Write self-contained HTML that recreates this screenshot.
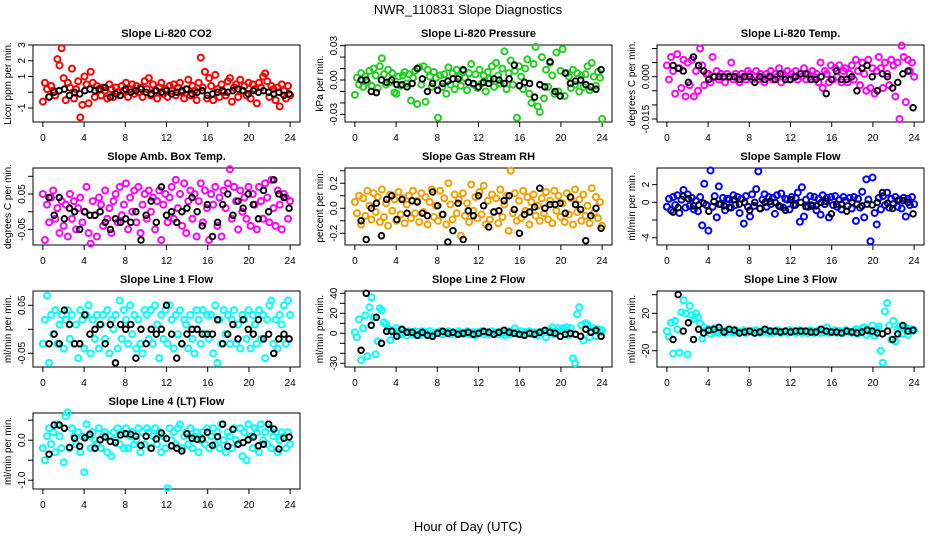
<!DOCTYPE html>
<html><head><meta charset="utf-8"><style>
html,body{margin:0;padding:0;background:#fff}
svg{display:block;font-family:"Liberation Sans",sans-serif}
</style></head><body>
<svg id="chart" width="936" height="540" viewBox="0 0 936 540">
<text x="468" y="14" font-size="13" text-anchor="middle">NWR_110831  Slope Diagnostics</text>
<text x="468" y="531" font-size="13" text-anchor="middle">Hour of Day (UTC)</text>
</svg>
<script>
const xTicks = [0,4,8,12,16,20,24];
const titles = ["Slope Li-820 CO2","Slope Li-820 Pressure","Slope Li-820 Temp.","Slope Amb. Box Temp.","Slope Gas Stream RH","Slope Sample Flow","Slope Line 1 Flow","Slope Line 2 Flow","Slope Line 3 Flow","Slope Line 4 (LT) Flow"];
const yLabels = ["Licor ppm per min.","kPa per min.","degrees C per min.","degrees C per min.","percent per min.","ml/min per min.","ml/min per min.","ml/min per min.","ml/min per min.","ml/min per min."];
const yRanges = [[-1.89,3.0],[-0.0367,0.0306],[-0.01606,0.01124],[-0.094,0.1234],[-0.294,0.322],[-4.82,3.88],[-0.0785,0.0798],[-33.7,42.3],[-37.4,43.9],[-1.22,0.68]];
const yTicks = [[-1,0,1,2,3],[-0.03,-0.02,-0.01,0,0.01,0.02,0.03],[-0.015,-0.01,-0.005,0,0.005,0.01],[-0.05,0,0.05,0.1],[-0.2,-0.1,0,0.1,0.2,0.3],[-4,-2,0,2],[-0.05,0,0.05],[-30,-20,-10,0,10,20,30,40],[-20,0,20,40],[-1,-0.5,0,0.5]];
const yTickLabels = [["-1","","1","2","3"],["-0.03","","","0.00","","","0.03"],["-0.015","","","0.000","",""],["-0.05","","0.05",""],["-0.2","","0.0","","0.2",""],["-4","","0","2"],["-0.05","","0.05"],["-30","","","0","","20","","40"],["-20","","20",""],["-1.0","","0.0",""]];
const colors = ["#ff0000","#22d022","#ff00ff","#ff00ff","#f5a000","#0000ff","#00ffff","#00ffff","#00ffff","#00ffff"];

const co2 = [-0.6,0.6,0.2,-0.3,0.4,0.1,-0.2,2.1,1.7,2.8, 0.9,-0.5,0.6,0.3,1.5,-0.4,0.2,0.7,-1.6,-0.8, 1.0,0.5,-0.7,1.3,0.6,-0.3,0.4,0.2,-0.2,0.3, 0.1,-0.4,0.5,0.2,-0.3,0.3,0.0,-0.2,0.4,0.1, 0.6,-0.3,0.2,0.5,-0.1,0.4,0.0,0.3,-0.3,0.7, 0.2,0.9,-0.2,0.5,0.1,-0.4,0.3,0.6,-0.1,0.2, -0.3,0.4,0.1,0.5,-0.2,0.3,0.6,0.0,-0.4,0.2, 0.8,-0.2,0.4,0.1,-0.5,0.6,2.2,0.3,1.3,-0.4, 0.9,0.4,-0.5,1.1,0.2,-0.3,0.5,0.0,-0.2,0.7, 0.9,-0.6,0.3,0.5,-0.3,0.8,0.1,0.4,-0.2,0.6, -0.4,0.5,0.2,-0.7,0.6,0.3,1.0,1.2,0.7,-0.3, 0.4,0.2,-0.5,0.3,-0.9,0.5,0.1,-0.4,0.4,-0.2];
const co2Hourly = [-0.3,0.0,0.1,0.2,-0.2,0.0,-0.1,0.1,0.2,0.1,0.2,0.3,-0.3,-0.1,-0.2,0.2,0.0,0.1,0.2,0.0,-0.1,0.1,0.0,0.1,-0.1,0.0,0.1,0.2,-0.1,0.0,0.1,-0.2,-0.1,0.0,0.1,0.0,0.1,0.2,0.1,-0.1,0.1,0.0,0.1,0.0,-0.1,0.0,-0.2,-0.1];
const pressure = [-0.013,0.002,-0.004,0.006,-0.006,0.003,-0.002,0.008,-0.005,0.010, 0.004,-0.007,0.012,0.019,0.005,-0.004,0.009,-0.002,0.006,-0.011, -0.012,0.003,-0.005,0.004,0.007,-0.003,0.005,-0.018,0.002,0.008, -0.021,0.011,-0.004,0.012,-0.019,0.009,0.003,-0.006,0.007,0.002, -0.033,0.004,-0.006,0.005,-0.012,0.011,-0.004,0.006,-0.008,0.009, 0.003,-0.005,0.008,0.002,-0.009,0.006,0.014,-0.004,0.005,-0.007, 0.009,-0.003,0.004,-0.010,0.007,0.001,0.012,-0.006,0.015,0.004, -0.003,0.010,0.025,-0.008,0.006,0.017,-0.004,0.008,-0.033,0.012, 0.003,-0.008,0.010,0.018,-0.012,-0.020,0.014,0.029,-0.023,-0.028, 0.020,-0.016,0.009,-0.006,0.015,0.004,-0.012,0.024,-0.010,0.008, 0.027,-0.014,0.006,0.003,-0.007,0.009,-0.004,0.006,-0.010,0.004, -0.006,0.005,0.012,-0.009,0.015,0.003,-0.005,0.007,0.002,-0.034];
const pressureHourly = [0.000,0.000,-0.010,-0.011,0.000,-0.002,0.000,-0.004,-0.004,-0.006,-0.003,0.010,0.001,-0.010,-0.003,-0.009,-0.003,-0.001,0.001,0.001,0.009,-0.002,-0.003,-0.006,-0.002,-0.003,0.001,0.000,-0.003,0.001,0.013,-0.005,-0.002,-0.003,-0.015,-0.004,-0.006,0.016,-0.010,-0.014,0.006,-0.003,-0.001,0.000,-0.004,-0.006,-0.008,0.009];
const licorTemp = [0.004,-0.001,0.007,0.002,-0.006,0.008,0.003,-0.004,0.006,-0.007, 0.005,-0.003,0.006,-0.007,0.002,-0.005,0.010,0.004,-0.003,0.001, 0.001,-0.002,0.007,0.000,0.002,-0.001,0.001,0.000,-0.002,0.001, 0.000,0.005,-0.001,0.001,0.000,-0.002,0.001,0.000,-0.001,0.002, 0.001,-0.001,0.000,0.002,-0.001,0.001,0.000,-0.002,0.001,0.000, 0.002,-0.001,0.001,0.000,0.003,-0.002,0.001,0.000,0.002,-0.001, 0.001,0.000,0.002,-0.001,0.001,0.000,0.003,-0.001,0.001,0.000, 0.002,0.000,0.001,-0.002,0.005,-0.004,0.002,0.001,-0.002,0.004, -0.001,0.003,0.000,0.004,-0.002,0.002,0.003,-0.002,0.001,0.004, -0.001,0.006,0.002,-0.003,0.005,0.001,-0.005,0.006,-0.004,0.003, -0.006,0.002,0.007,0.003,-0.004,0.005,0.001,-0.003,0.006,0.004, -0.007,0.005,-0.015,0.011,0.007,-0.009,0.006,0.002,0.005,0.000];
const licorTempHourly = [0.004,0.003,0.002,-0.002,0.007,0.004,0.002,-0.001,0.000,0.000,0.000,0.000,0.000,-0.001,0.000,0.000,-0.002,0.000,-0.001,0.000,-0.001,0.001,-0.001,-0.001,0.000,0.001,0.001,-0.001,-0.001,0.000,-0.006,-0.001,0.002,-0.001,-0.001,0.000,-0.005,0.003,0.004,0.000,-0.005,0.001,0.000,-0.004,-0.002,0.001,0.002,-0.011];
const boxTemp = [0.05,-0.08,0.02,-0.03,0.04,0.06,-0.02,0.01,-0.06,0.03, -0.04,0.02,-0.07,0.05,-0.02,0.03,-0.05,0.01,0.04,-0.03, 0.00,0.07,-0.06,-0.09,0.03,-0.01,-0.07,0.04,0.02,-0.04, 0.06,-0.02,0.01,-0.06,0.03,0.05,-0.03,0.07,-0.01,0.02, 0.08,-0.05,0.04,0.00,0.06,-0.03,0.07,-0.06,0.02,0.05, -0.02,0.06,0.00,0.04,-0.05,0.03,0.06,-0.08,0.02,0.05, -0.03,0.04,0.07,-0.02,0.09,0.01,0.05,-0.04,0.08,-0.06, 0.03,0.06,-0.02,0.05,-0.07,0.03,0.08,-0.03,0.06,0.01, -0.08,0.05,0.02,0.07,-0.04,0.04,-0.07,0.06,0.01,0.08, 0.12,-0.02,0.07,0.03,-0.05,0.06,0.00,0.04,-0.02,0.07, -0.04,0.05,0.02,-0.05,0.07,0.03,-0.02,0.08,0.04,-0.03, 0.09,0.01,-0.04,0.06,0.02,-0.05,0.05,0.04,-0.02,0.03];
const boxTempHourly = [0.04,-0.01,0.04,-0.02,0.01,0.0,-0.05,0.0,-0.01,-0.01,0.0,-0.03,-0.05,-0.02,-0.03,-0.02,-0.03,0.0,-0.08,-0.01,0.03,-0.03,0.07,-0.01,0.0,-0.03,0.0,0.01,0.04,0.0,-0.04,0.02,-0.07,-0.03,0.02,0.05,-0.01,0.03,0.01,0.05,0.02,-0.02,0.06,0.0,0.09,0.05,0.04,0.01];
const rh = [0.05,-0.04,0.10,-0.13,0.08,-0.06,0.14,0.02,-0.09,0.12, -0.03,0.09,-0.11,0.15,-0.07,0.04,-0.14,0.11,-0.02,0.07, -0.10,0.13,-0.05,0.08,-0.12,0.03,0.10,-0.08,0.14,-0.04, 0.06,-0.11,0.12,-0.03,0.09,-0.13,0.05,0.15,-0.07,0.02, -0.10,0.14,-0.05,0.08,-0.13,0.20,0.03,-0.09,0.11,-0.04, 0.07,-0.22,0.12,-0.06,0.04,-0.11,0.19,-0.02,0.09,-0.08, 0.13,-0.05,0.18,-0.13,0.06,-0.09,0.11,-0.03,0.08,-0.12, 0.15,-0.07,0.03,0.10,-0.18,0.30,-0.04,0.12,-0.10,0.06, -0.08,0.14,-0.02,0.09,-0.13,0.05,0.11,-0.06,0.02,-0.10, 0.08,-0.04,0.13,-0.09,0.06,-0.12,0.14,-0.02,0.10,-0.07, 0.04,-0.11,0.12,-0.05,0.08,-0.13,0.15,-0.03,0.07,-0.10, 0.11,-0.06,0.02,-0.12,0.16,-0.04,0.09,-0.08,0.05,-0.14];
const rhHourly = [-0.10,-0.25,0.0,0.04,-0.22,0.07,0.1,-0.09,0.07,-0.04,0.06,0.05,-0.04,-0.06,0.13,0.02,-0.05,-0.27,-0.18,0.04,-0.25,-0.02,-0.06,0.10,0.02,-0.15,-0.03,-0.02,0.06,0.10,-0.01,-0.20,-0.05,-0.03,0.01,0.16,0.0,0.03,0.03,0.04,-0.04,0.09,0.03,-0.01,-0.26,-0.06,0.0,-0.16];
const sampleFlow = [-0.5,0.4,-0.9,0.6,-0.3,0.8,-1.2,0.3,1.4,-0.6, 0.9,-0.4,0.5,-0.8,0.2,-1.0,0.6,-2.6,2.1,-0.3, -3.2,3.6,-0.5,0.7,-1.7,1.8,-0.2,0.5,-0.9,0.4, 0.3,-0.6,0.8,-0.3,0.6,-1.2,0.4,-2.4,0.7,-0.5, -1.6,0.9,-0.4,1.5,3.5,-0.7,0.3,0.9,-0.5,0.6, -0.2,0.5,-1.3,0.8,-0.4,1.0,-0.6,0.4,0.3,-0.8, 0.6,-0.3,0.5,1.1,-2.2,1.7,-1.6,0.3,-0.5,0.7, -0.4,0.6,-0.9,0.4,-1.4,0.8,-0.2,0.5,-1.7,0.6, -0.3,0.7,-0.5,0.3,-0.8,0.6,0.2,-0.4,0.5,-0.7, 0.6,-2.1,0.4,-0.6,1.2,-1.7,2.6,0.3,-4.4,2.8, -1.2,-2.5,0.5,-0.8,0.7,-0.3,1.1,-0.6,0.4,-0.2, 0.6,-0.5,0.3,-0.7,0.5,-1.6,0.4,-0.3,0.6,-0.2];
const sampleFlowHourly = [-1.1,-0.6,0.7,0.4,-0.4,-0.3,-0.1,-1.0,0.1,-0.2,-0.4,-0.6,0.3,-0.2,0.0,-0.9,0.0,-0.7,0.0,0.1,0.0,-0.5,-0.9,0.3,-0.3,0.0,-0.5,-0.3,-0.4,0.0,0.1,-1.3,-0.2,-0.2,-1.0,0.0,-0.2,-0.4,-0.2,-0.3,0.0,1.1,-0.1,-0.7,0.2,0.2,0.0,-1.3];
const line1 = [-0.03,0.02,0.07,-0.07,0.03,-0.01,0.04,-0.03,0.01,0.03, -0.04,0.02,0.04,-0.02,0.03,-0.03,0.01,-0.06,0.04,0.02, -0.04,0.03,0.05,-0.05,0.02,-0.02,0.03,-0.04,0.01,0.03, -0.02,0.04,-0.05,0.02,0.00,0.03,-0.04,0.06,-0.02,0.04, 0.02,-0.03,0.05,-0.01,0.03,-0.04,0.02,-0.03,-0.05,0.04, 0.03,-0.02,0.04,-0.03,0.05,0.01,-0.06,0.03,-0.02,0.04, -0.03,0.05,0.02,-0.04,0.03,-0.01,0.04,-0.03,0.02,0.01, -0.04,0.03,-0.02,-0.05,0.04,0.02,-0.03,0.04,-0.01,0.03, -0.02,0.03,-0.05,0.05,-0.07,0.02,-0.03,0.04,-0.01,0.03, -0.03,0.02,0.04,-0.03,0.01,-0.04,0.03,0.02,-0.02,0.04, -0.04,0.03,0.01,-0.03,0.04,-0.02,0.03,-0.06,0.02,0.05, 0.06,-0.03,0.02,-0.04,0.03,0.01,0.05,-0.03,0.06,0.03];
const line1Hourly = [-0.03,-0.01,-0.03,0.04,0.01,-0.03,-0.03,0.03,-0.01,0.00,0.01,-0.03,0.01,-0.07,0.01,0.00,0.01,-0.06,0.00,-0.03,0.00,-0.01,0.00,0.05,-0.01,-0.06,-0.03,-0.01,0.00,0.00,-0.01,-0.01,-0.01,0.02,-0.03,-0.01,0.01,-0.02,0.02,0.00,-0.01,0.02,-0.02,-0.01,-0.05,-0.02,-0.01,-0.02];
const line2 = [1,-4,14,-27,5,18,-23,26,36,16, -21,-8,25,23,11,9,5,-7,3,-2, 5,2,-1,3,1,-2,2,0,-1,2, 1,-2,2,0,1,-1,2,-1,0,1, 0,2,-1,1,0,2,-1,1,0,-1, 2,0,-1,1,2,-1,0,1,-2,1, 0,2,-1,1,0,-1,2,0,1,-1, 1,0,-2,1,2,-1,1,5,0,-1, 2,-1,1,0,2,-1,0,1,-2,1, 0,2,-4,1,3,6,-1,2,5,-3, 5,4,6,-2,5,-25,-30,19,26,8, -7,10,9,-4,2,5,-3,4,1,3];
const line2Hourly = [-17,40,8,16,-10,2,2,-3,4,1,1,-2,1,-2,-3,0,2,0,1,-1,0,1,-1,0,2,1,-1,1,3,1,0,-1,-2,0,-1,1,3,1,0,-3,-1,0,-1,-3,4,1,3,-3];
const line3 = [1,-5,10,-23,12,3,-22,21,34,20, -24,28,18,14,20,16,9,-7,5,2, 3,-2,1,4,0,-1,2,1,-1,2, 1,0,-1,2,1,-1,0,2,-1,1, 0,1,-1,2,0,-1,1,0,2,-1, 1,-1,0,2,1,-1,0,1,-1,2, 0,1,-1,0,2,-1,1,0,-1,2, 1,-1,0,2,-1,1,0,5,-1,1, 0,2,-1,1,0,-1,2,1,0,-1, 1,3,-2,1,4,5,-3,2,-1,7, -4,3,6,-20,-33,22,31,7,-8,12, -10,3,6,-2,4,5,-3,3,1,2];
const line3Hourly = [-8,40,1,10,-8,3,-1,2,3,5,0,3,2,-1,0,1,-1,0,3,1,1,0,1,0,1,1,1,0,0,3,1,0,0,-1,1,0,-1,0,2,1,-1,-2,1,-8,-2,7,1,2];
const line4 = [-0.2,-0.5,0.1,0.3,-0.1,0.2,-0.3,0.4,0.1,-0.2, -0.55,0.6,0.7,-0.2,0.3,0.1,-0.1,0.2,-0.3,0.1, -0.8,0.4,0.1,-0.2,0.2,0.0,-0.1,0.3,-0.2,0.1, 0.2,-0.3,0.1,-0.4,0.2,0.0,0.3,-0.1,0.2,-0.2, 0.3,-0.2,0.1,0.2,-0.1,0.0,0.3,-0.3,0.2,-0.1, 0.3,0.2,-0.2,0.1,0.3,-0.1,0.2,-0.3,0.1,-0.2, -1.2,0.3,0.0,0.2,-0.1,0.3,0.4,-0.2,0.1,0.2, -0.1,0.3,-0.2,0.1,0.2,-0.3,0.0,0.2,-0.1,0.3, -0.2,0.1,0.3,-0.1,0.2,-0.2,0.4,0.0,-0.3,0.2, 0.1,-0.2,0.3,0.0,-0.1,0.3,-0.4,0.2,-0.5,0.4, 0.1,-0.2,0.3,0.2,-0.3,0.4,0.0,0.2,-0.1,0.3, -0.2,0.1,0.2,-0.3,0.0,0.2,0.1,-0.2,0.2,-0.1];
const line4Hourly = [-0.35,0.38,0.38,0.30,-0.18,0.05,-0.15,0.06,0.15,-0.20,0.01,0.08,-0.03,-0.06,0.13,0.16,0.15,0.10,-0.13,0.10,-0.20,0.03,0.18,0.04,-0.14,-0.20,-0.27,0.16,0.05,0.02,0.03,0.20,-0.13,0.09,0.40,-0.15,0.27,-0.10,-0.06,0.01,0.08,-0.14,-0.10,0.40,0.28,-0.22,0.05,0.08];

const series = [co2,pressure,licorTemp,boxTemp,rh,sampleFlow,line1,line2,line3,line4];
const hourly = [co2Hourly,pressureHourly,licorTempHourly,boxTempHourly,rhHourly,sampleFlowHourly,line1Hourly,line2Hourly,line3Hourly,line4Hourly];

const NS = "http://www.w3.org/2000/svg";
const svg = document.getElementById('chart');
const colLeft = [33,345,657], colRight = [300,612,924];
const rowTop = [45,168,291,413], rowBottom = [122,245,367,489];
function mk(tag, attrs, parent){ const e=document.createElementNS(NS,tag); for(const k in attrs) e.setAttribute(k,attrs[k]); (parent||svg).appendChild(e); return e; }
function slug(s){ return s.toLowerCase().replace(/[^a-z0-9]+/g,'-').replace(/^-|-$/g,''); }

for(let p=0;p<10;p++){
  const L=colLeft[p%3], R=colRight[p%3], T=rowTop[Math.floor(p/3)], B=rowBottom[Math.floor(p/3)];
  const g = mk('g',{});
  
  
  const xs = v => L + (v + 0.96) / 25.92 * (R - L);
  const y0 = yRanges[p][0], y1 = yRanges[p][1];
  const ys = v => B - (v - y0) / (y1 - y0) * (B - T);
  const t = mk('text',{x:(L+R)/2,y:T-8,'font-size':11,'font-weight':'bold','text-anchor':'middle'},g);
  t.textContent = titles[p];
  
  
  const yl = mk('text',{x:L-22,y:(T+B)/2,'font-size':10,'text-anchor':'middle',transform:`rotate(-90 ${L-22} ${(T+B)/2})`},g);
  yl.textContent = yLabels[p];
  
  
  const xa = mk('g',{stroke:'#000','stroke-width':1},g);
  
  
  mk('line',{x1:xs(xTicks[0]),x2:xs(xTicks[xTicks.length-1]),y1:B,y2:B},xa);
  xTicks.forEach(v=>{
    mk('line',{x1:xs(v),x2:xs(v),y1:B,y2:B+5},xa);
    const tl = mk('text',{x:xs(v),y:B+19,'font-size':10,'text-anchor':'middle',stroke:'none'},g);
    tl.textContent = v;
    
    
  });
  const ya = mk('g',{stroke:'#000','stroke-width':1},g);
  
  
  const tk = yTicks[p];
  mk('line',{x1:L,x2:L,y1:ys(tk[0]),y2:ys(tk[tk.length-1])},ya);
  tk.forEach((v,i)=>{
    mk('line',{x1:L-5,x2:L,y1:ys(v),y2:ys(v)},ya);
    const lab = yTickLabels[p][i];
    if(lab){
      const tl = mk('text',{x:L-8,y:ys(v),'font-size':10,'text-anchor':'middle',transform:`rotate(-90 ${L-8} ${ys(v)})`},g);
      tl.textContent = lab;
      
      
    }
  });
  const box = mk('rect',{x:L,y:T,width:R-L,height:B-T,fill:'none',stroke:'#000','stroke-width':1},g);
  
  
  const s = series[p], n = s.length, col = colors[p];
  const pg = mk('g',{},g);
  
  
  s.forEach((v,i)=>{
    const c = mk('circle',{cx:xs(24*i/(n-1)),cy:ys(v),r:3,fill:'none',stroke:col,'stroke-width':2},pg);
    
    
  });
  const h = hourly[p], m = h.length;
  const hg = mk('g',{},g);
  
  
  h.forEach((v,i)=>{
    const c = mk('circle',{cx:xs(0.6 + 23.3*i/(m-1)),cy:ys(v),r:2.8,fill:'none',stroke:'#000','stroke-width':1.9},hg);
    
    
  });
}
</script>
</body></html>
